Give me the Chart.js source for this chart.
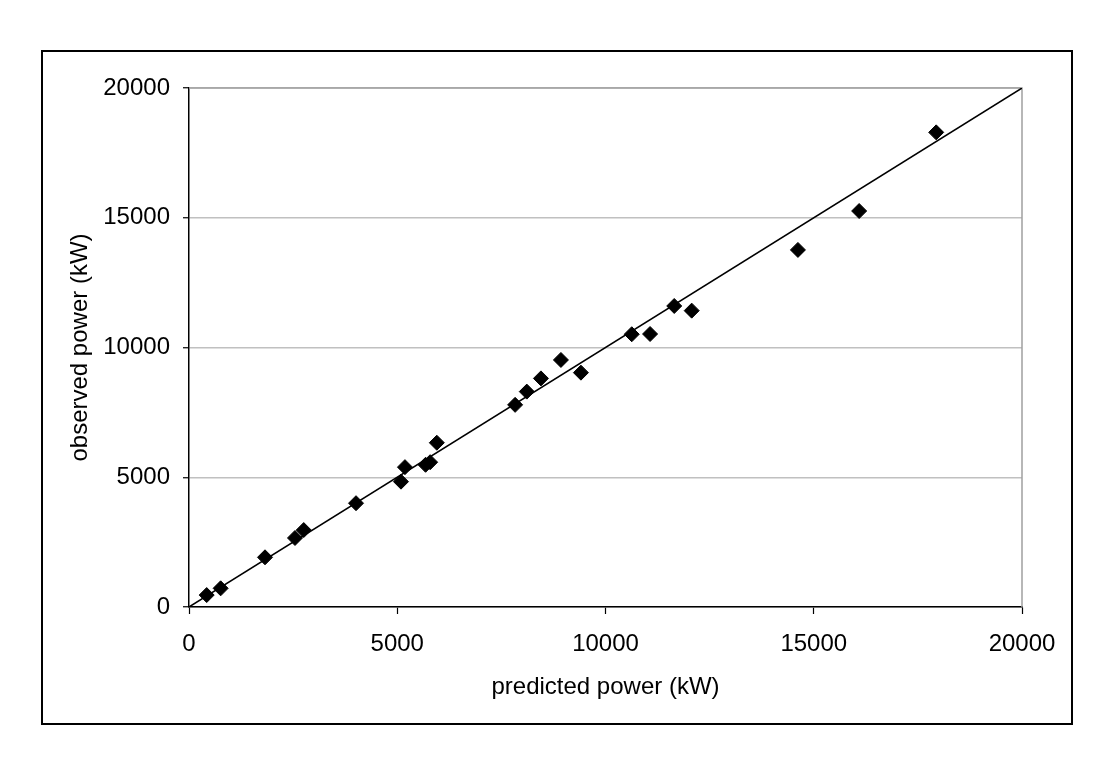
<!DOCTYPE html>
<html>
<head>
<meta charset="utf-8">
<script src="https://cdn.jsdelivr.net/npm/chart.js@4.4.1/dist/chart.umd.min.js"></script>
<style>
  html, body { margin: 0; padding: 0; background: #fff; }
  #wrap { width: 1109px; height: 759px; position: relative; }
</style>
</head>
<body>
<div id="wrap"><canvas id="powerChart"></canvas></div>
<script>
'use strict';

// predicted vs observed power (kW)
const predicted = [425, 760, 1825, 2545, 2755, 4010, 5090, 5185, 5680, 5790, 5950,
  7830, 8110, 8450, 8930, 9410, 10630, 11070, 11650, 12070, 14620, 16090, 17940];
const observed = [460, 720, 1915, 2660, 2965, 4000, 4830, 5390, 5480, 5580, 6330,
  7790, 8300, 8810, 9520, 9030, 10510, 10520, 11600, 11420, 13760, 15260, 18290];
const lineX = [0, 20000];
const lineY = [0, 20000];
const tickValues = [0, 5000, 10000, 15000, 20000];

const fontFamily = '"Liberation Sans", Arial, sans-serif';

// gray frame on top/right of plot + outer black box
const framePlugin = {
  id: 'frame',
  beforeDatasetsDraw(chart) {
    const { ctx, chartArea: a } = chart;
    ctx.save();
    ctx.strokeStyle = '#a0a0a0';
    ctx.lineWidth = 1.5;
    ctx.beginPath();
    ctx.moveTo(a.left, a.top);
    ctx.lineTo(a.right, a.top);
    ctx.lineTo(a.right, a.bottom);
    ctx.stroke();
    ctx.restore();
  },
  afterDraw(chart) {
    const ctx = chart.ctx;
    ctx.save();
    ctx.strokeStyle = '#000';
    ctx.lineWidth = 2;
    ctx.strokeRect(42, 51, 1030, 673);
    ctx.restore();
  }
};

new Chart(document.getElementById('powerChart').getContext('2d'), {
  type: 'scatter',
  data: {
    datasets: [
      {
        type: 'line',
        data: lineX.map((x, i) => ({ x, y: lineY[i] })),
        borderColor: '#000',
        borderWidth: 1.5,
        pointRadius: 0,
        fill: false
      },
      {
        data: predicted.map((x, i) => ({ x, y: observed[i] })),
        pointStyle: 'rectRot',
        pointRadius: 7.5,
        pointHoverRadius: 7.5,
        backgroundColor: '#000',
        borderColor: '#000',
        borderWidth: 1
      }
    ]
  },
  options: {
    responsive: true,
    maintainAspectRatio: false,
    animation: false,
    layout: { padding: { left: 0, right: 87, top: 88, bottom: 0 } },
    plugins: { legend: { display: false }, tooltip: { enabled: false } },
    scales: {
      x: {
        type: 'linear',
        min: 0, max: 20000,
        afterBuildTicks: s => { s.ticks = tickValues.map(v => ({ value: v })); },
        afterFit: s => { s.height = 152; },
        border: { color: '#000', width: 1.5 },
        grid: { drawOnChartArea: false, tickLength: 7, tickColor: '#000', tickWidth: 1.2 },
        ticks: { color: '#000', padding: 16, maxRotation: 0, font: { family: fontFamily, size: 24 },
          callback: v => String(v) },
        title: {
          display: true, text: 'predicted power (kW)', color: '#000',
          font: { family: fontFamily, size: 24 }, padding: { top: 0, bottom: 57 }
        }
      },
      y: {
        type: 'linear',
        min: 0, max: 20000,
        afterBuildTicks: s => { s.ticks = tickValues.map(v => ({ value: v })); },
        afterFit: s => { s.width = 189; },
        border: { color: '#000', width: 1.5 },
        grid: { color: '#c0c0c0', lineWidth: 1.5, tickLength: 6, tickColor: '#000', tickWidth: 1.2 },
        ticks: { color: '#000', padding: 13, font: { family: fontFamily, size: 24 },
          callback: v => String(v) },
        title: {
          display: true, text: 'observed power (kW)', color: '#000',
          font: { family: fontFamily, size: 24 }, padding: { top: 66, bottom: 0 }
        }
      }
    }
  },
  plugins: [framePlugin]
});
</script>
</body>
</html>
